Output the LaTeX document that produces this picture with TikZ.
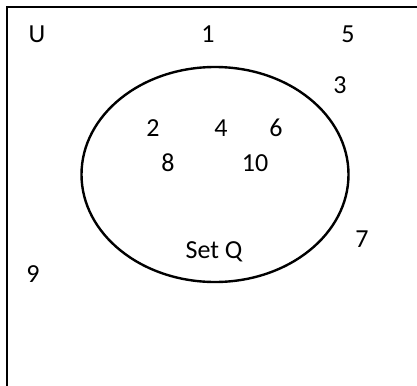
\documentclass[tikz,border=0pt]{standalone}
\usepackage{fontspec}
\setmainfont{Carlito}
\usetikzlibrary{positioning}

\begin{document}
\begin{tikzpicture}[
    x=0.5pt, y=-0.5pt,
    every node/.style={inner sep=0pt, anchor=base, font=\fontsize{13}{15}\selectfont},
    setline/.style={line width=1.2pt},
    boxline/.style={line width=1pt}
  ]
    \useasboundingbox (0,0) rectangle (417,385);
    \clip (0,0) rectangle (417,385);

    % universal set (cut off at right and bottom)
    \draw[boxline] (7,400) |- (430,7);

    % set Q
    \draw[setline] (215,174.5) ellipse [x radius=66.75pt, y radius=53.75pt];

    \node (lblU) at (37,43) {U};
    \node (lblQ) at (214,258) {Set Q};

    \node (el1) at (208,43) {1};
    \node (el5) at (348,43) {5};
    \node (el3) at (340,94) {3};
    \node (el2) at (153,136) {2};
    \node (el4) at (221,136) {4};
    \node (el6) at (276,136) {6};
    \node (el8) at (168,171) {8};
    \node (el10) at (255,171) {10};
    \node (el7) at (362,247) {7};
    \node (el9) at (33,282) {9};
  \end{tikzpicture}
\end{document}
